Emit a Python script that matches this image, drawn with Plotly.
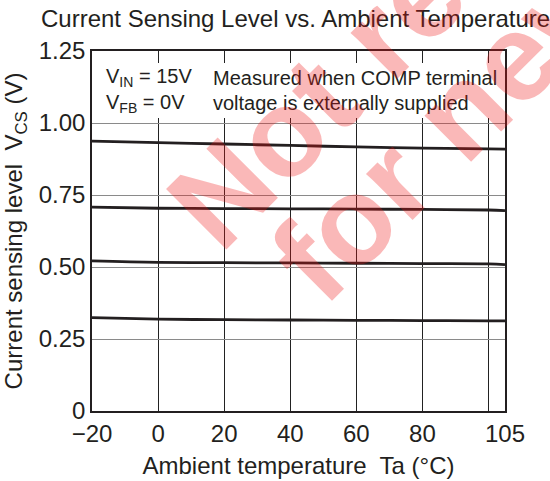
import math
import plotly.graph_objects as go

# ---- data ----
temps = [-20, 0, 20, 40, 60, 80, 100, 105]
vcs_level1 = [0.937, 0.932, 0.927, 0.922, 0.917, 0.913, 0.910, 0.909]
vcs_level2 = [0.708, 0.704, 0.703, 0.702, 0.701, 0.700, 0.698, 0.696]
vcs_level3 = [0.521, 0.516, 0.515, 0.514, 0.513, 0.512, 0.511, 0.508]
vcs_level4 = [0.324, 0.319, 0.317, 0.316, 0.315, 0.314, 0.313, 0.313]

x_tickvals = [-20, 0, 20, 40, 60, 80, 100, 105]
x_ticktext = ["\u221220", "0", "20", "40", "60", "80", "", "105"]
y_tickvals = [0, 0.25, 0.5, 0.75, 1.0, 1.25]
y_ticktext = ["0", "0.25", "0.50", "0.75", "1.00", "1.25"]

W, H = 550, 481
ML, MR, MT, MB = 92, 45, 51, 70
PW, PH = W - ML - MR, H - MT - MB
TXT = "#231F20"
FONT = "Liberation Sans, Arial, sans-serif"
FS = 24


def px(x):
    return (x - ML) / PW


def py(y):
    return (H - MB - y) / PH


fig = go.Figure()
for ys in [vcs_level1, vcs_level2, vcs_level3, vcs_level4]:
    fig.add_trace(go.Scatter(x=temps, y=ys, mode="lines",
                             line=dict(color=TXT, width=2.8, shape="spline"),
                             showlegend=False, hoverinfo="skip"))

fig.update_layout(
    width=W, height=H,
    margin=dict(l=ML, r=MR, t=MT, b=MB, autoexpand=False),
    paper_bgcolor="white", plot_bgcolor="white",
    font=dict(family=FONT, color=TXT, size=FS),
    title=dict(text="Current Sensing Level vs. Ambient Temperature",
               x=41 / W, xanchor="left", y=1 - 19 / H, yanchor="middle",
               font=dict(size=FS, color=TXT)),
    xaxis=dict(range=[-20, 105], tickvals=x_tickvals, ticktext=x_ticktext,
               showgrid=True, gridcolor="#222222", gridwidth=1,
               zeroline=False, showline=True, linecolor=TXT, linewidth=1.5,
               mirror=True, ticks="", tickfont=dict(size=FS, color=TXT),
               title=dict(text="Ambient temperature  Ta (\u00b0C)",
                          font=dict(size=FS, color=TXT), standoff=12)),
    yaxis=dict(range=[0, 1.25], tickvals=y_tickvals, ticktext=y_ticktext,
               showgrid=True, gridcolor="#8a8a8a", gridwidth=1,
               zeroline=False, showline=True, linecolor=TXT, linewidth=1.5,
               mirror=True, ticks="", tickfont=dict(size=FS, color=TXT),
               title=dict(text="Current sensing level  V<sub>CS</sub> (V)",
                          font=dict(size=FS, color=TXT), standoff=9)),
)

# white box behind the condition notes
fig.add_shape(type="rect", xref="paper", yref="paper",
              x0=px(100), x1=px(500), y0=py(118), y1=py(63),
              fillcolor="white", line=dict(width=0), layer="above")

notes = [
    (104, 78, "V<sub>IN</sub> = 15V"),
    (104, 103, "V<sub>FB</sub> = 0V"),
    (211, 78, "Measured when COMP terminal"),
    (211, 103, "voltage is externally supplied"),
]
for x, y, t in notes:
    fig.add_annotation(x=px(x), y=py(y), xref="paper", yref="paper",
                       text=t, showarrow=False, xanchor="left", yanchor="middle",
                       font=dict(size=20, color=TXT))

# watermark (baseline start point in pixels, width in em, text)
WM_S = 124
u = (math.cos(math.radians(45)), -math.sin(math.radians(45)))
v = (-math.sin(math.radians(45)), -math.cos(math.radians(45)))
wm = [
    ((221, 256), 8.779, "Not recommended"),
    ((324, 309), 7.057, "for new design"),
]
for (bx, by), wem, t in wm:
    along = wem * WM_S / 2
    up = 0.35 * WM_S
    cx = bx + along * u[0] + up * v[0]
    cy = by + along * u[1] + up * v[1]
    fig.add_annotation(x=px(cx), y=py(cy), xref="paper", yref="paper",
                       text="<b>" + t + "</b>", showarrow=False,
                       xanchor="center", yanchor="middle", textangle=-45,
                       font=dict(size=WM_S, color="rgba(240,20,20,0.3)",
                                 family=FONT))

fig.write_html("out.html",
               config={"displayModeBar": False},
               post_script="document.body.style.margin='0';"
                           "document.body.style.padding='0';")
